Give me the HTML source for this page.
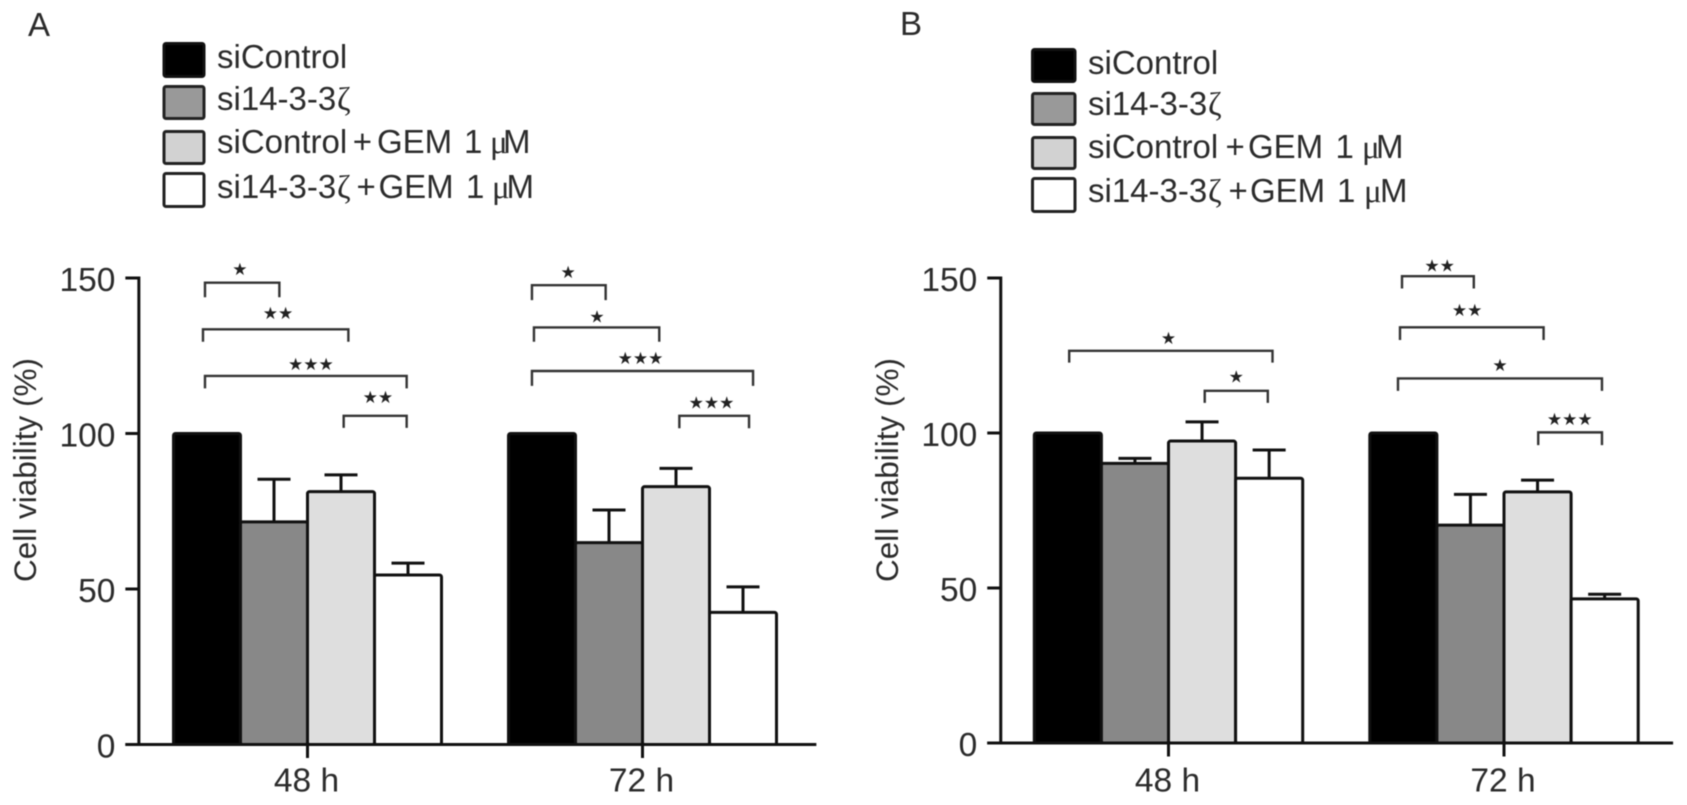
<!DOCTYPE html>
<html lang="en">
<head>
<meta charset="utf-8">
<title>Cell viability bar charts</title>
<style>
html,body{margin:0;padding:0;background:#fff;}
body{width:1687px;height:805px;overflow:hidden;}
svg{display:block;filter:blur(.45px);}
text{font-family:"Liberation Sans",sans-serif;fill:#2b2b2b;}
.lg{font-size:33px;}
.sf{font-family:"Liberation Serif",serif;}
</style>
</head>
<body>
<svg id="figure" xmlns="http://www.w3.org/2000/svg" width="1687" height="805" viewBox="0 0 1687 805">
  <rect x="0" y="0" width="1687" height="805" fill="#fff"/>

  <text x="28" y="36" font-size="33">A</text>
  <g>
    <rect x="164" y="43.5" width="40" height="33" rx="2" fill="#000" stroke="#111" stroke-width="3"/>
    <rect x="164" y="86.5" width="40" height="32" rx="2" fill="#999" stroke="#222" stroke-width="3"/>
    <rect x="164" y="131.5" width="40" height="32" rx="2" fill="#d2d2d2" stroke="#222" stroke-width="3"/>
    <rect x="164" y="173.5" width="40" height="33" rx="2" fill="#fff" stroke="#222" stroke-width="3"/>
    <text class="lg" x="217" y="68">siControl</text>
    <text class="lg" x="217" y="110">si14-3-3<tspan class="sf" x="337">ζ</tspan></text>
    <text class="lg" x="217" y="153">siControl<tspan x="352.7">+</tspan><tspan x="377">GEM</tspan><tspan x="464">1</tspan><tspan class="sf" x="490">μ</tspan><tspan x="503">M</tspan></text>
    <text class="lg" x="217" y="198">si14-3-3<tspan class="sf" x="337">ζ</tspan><tspan x="356.5">+</tspan><tspan x="378.5">GEM</tspan><tspan x="466">1</tspan><tspan class="sf" x="492">μ</tspan><tspan x="506.5">M</tspan></text>
  </g>

  <text x="900" y="35" font-size="33">B</text>
  <g>
    <rect x="1032.5" y="49.5" width="42.5" height="32" rx="2" fill="#000" stroke="#111" stroke-width="3"/>
    <rect x="1032.5" y="93.5" width="42.5" height="31" rx="2" fill="#999" stroke="#222" stroke-width="3"/>
    <rect x="1032.5" y="137.5" width="42.5" height="31" rx="2" fill="#d2d2d2" stroke="#222" stroke-width="3"/>
    <rect x="1032.5" y="178.5" width="42.5" height="33" rx="2" fill="#fff" stroke="#222" stroke-width="3"/>
    <text class="lg" x="1088" y="74">siControl</text>
    <text class="lg" x="1088" y="115">si14-3-3<tspan class="sf" x="1208">ζ</tspan></text>
    <text class="lg" x="1088" y="158">siControl<tspan x="1225.5">+</tspan><tspan x="1248">GEM</tspan><tspan x="1335.5">1</tspan><tspan class="sf" x="1362">μ</tspan><tspan x="1376">M</tspan></text>
    <text class="lg" x="1088" y="202">si14-3-3<tspan class="sf" x="1208">ζ</tspan><tspan x="1228.5">+</tspan><tspan x="1250">GEM</tspan><tspan x="1337">1</tspan><tspan class="sf" x="1364">μ</tspan><tspan x="1380">M</tspan></text>
  </g>
</svg>
<script>
// ---- shared data ----
const categories = ['48 h', '72 h'];
const seriesNames = ['sicontrol', 'si14-3-3', 'sicontrol-gem', 'si14-3-3-gem'];
const seriesFills = ['#000', '#888', '#dedede', '#fff'];
const yTicks = [0, 50, 100, 150];
const yTitle = 'Cell viability (%)';

// ---- panel A values (% viability, categories order) ----
const siControlA = [100, 100];
const si1433A = [71.6, 64.9];
const siControlGemA = [81.3, 82.9];
const si1433GemA = [54.5, 42.5];
const si1433ErrA = [13.7, 10.5];
const siControlGemErrA = [5.4, 5.9];
const si1433GemErrA = [3.8, 8.2];

// ---- panel B values ----
const siControlB = [100, 100];
const si1433B = [90.2, 70.3];
const siControlGemB = [97.4, 81.0];
const si1433GemB = [85.4, 46.5];
const si1433ErrB = [1.6, 9.9];
const siControlGemErrB = [6.2, 3.8];
const si1433GemErrB = [9.1, 1.5];

// ---- significance brackets: x in bar-width units from the 48 h centre, y in % ----
const bracketFromA = [-1.53, -1.56, -1.53, 0.54, 3.35, 3.38, 3.35, 5.55];
const bracketToA = [-0.42, 0.61, 1.48, 1.48, 4.45, 5.25, 6.65, 6.59];
const bracketLevelA = [148.5, 133.5, 118.5, 105.7, 147.7, 134.1, 120.1, 105.7];
const bracketDropA = [4.7, 4, 4, 3.9, 4.8, 4.6, 4.8, 4];
const bracketMarkA = ['★', '★★', '★★★', '★★', '★', '★', '★★★', '★★★'];
const bracketMarkXA = [-1.01, -0.44, 0.05, 1.05, 3.89, 4.32, 4.97, 6.03];
const bracketMarkYA = [152.9, 138.7, 122.3, 111.7, 152, 137.6, 124.2, 109.9];

const bracketFromB = [-1.48, 0.54, 3.48, 3.45, 3.42, 5.51];
const bracketToB = [1.55, 1.48, 4.55, 5.59, 6.46, 6.46];
const bracketLevelB = [126.5, 113.6, 150.6, 134.1, 117.6, 100.2];
const bracketDropB = [3.8, 3.9, 4, 4.1, 4, 4.1];
const bracketMarkB = ['★', '★', '★★', '★★', '★', '★★★'];
const bracketMarkXB = [0, 1.01, 4.04, 4.45, 4.94, 5.98];
const bracketMarkYB = [130.7, 118.2, 154, 139.7, 121.9, 104.5];

const NS = 'http://www.w3.org/2000/svg';
const fig = document.getElementById('figure');

function make(tag, parent, attrs) {
  const el = document.createElementNS(NS, tag);
  for (const k in attrs) el.setAttribute(k, attrs[k]);
  parent.appendChild(el);
  return el;
}

function drawPanel(p) {
  const xScale = u => p.x0 + p.step * u;
  const yScale = v => p.base - p.unit * v;
  const groupUnit = 5;

  const g = make('g', fig, {});
  
  

  // y-axis title
  const yt = make('text', g, {x: 0, y: 0, 'font-size': 31.5, transform: 'translate(' + p.titleX + ',582) rotate(-90)'});
  yt.textContent = yTitle;
  
  

  // bars + error bars
  p.series.forEach((vals, s) => {
    vals.forEach((v, c) => {
      const center = c * groupUnit + s - 1.5;
      const left = xScale(center - 0.5);
      const right = xScale(center + 0.5);
      const bar = make('rect', g, {
        x: left, y: yScale(v), width: right - left, height: yScale(0) - yScale(v),
        rx: 2, fill: seriesFills[s], stroke: '#111', 'stroke-width': 3
      });
      
      
      const errVals = p.errors[s];
      if (errVals) {
        const top = yScale(v + errVals[c]);
        const cx = xScale(center);
        const eb = make('path', g, {
          d: 'M' + cx + ' ' + yScale(v) + 'V' + top + 'M' + (cx - 16.5) + ' ' + top + 'H' + (cx + 16.5),
          fill: 'none', stroke: '#111', 'stroke-width': 3
        });
        
        
      }
    });
  });

  // y axis
  const yAxis = make('line', g, {x1: xScale(p.axisLeftU), x2: xScale(p.axisLeftU), y1: yScale(150) - 1.5, y2: yScale(0) + 1.5, stroke: '#111', 'stroke-width': 3});
  
  
  yTicks.forEach(t => {
    const tick = make('line', g, {x1: xScale(p.axisLeftU) - 13.5, x2: xScale(p.axisLeftU), y1: yScale(t), y2: yScale(t), stroke: '#111', 'stroke-width': 3});
    
    
    const lab = make('text', g, {x: xScale(p.axisLeftU) - 23.5, y: yScale(t) + 13, 'font-size': 33.5, 'text-anchor': 'end'});
    lab.textContent = String(t);
    
    
  });

  // x axis
  const xAxis = make('line', g, {x1: xScale(p.axisLeftU) - 13.5, x2: xScale(p.axisRightU), y1: yScale(0), y2: yScale(0), stroke: '#111', 'stroke-width': 3});
  
  
  categories.forEach((c, i) => {
    const tick = make('line', g, {x1: xScale(i * groupUnit), x2: xScale(i * groupUnit), y1: yScale(0), y2: yScale(0) + 13.5, stroke: '#111', 'stroke-width': 3});
    
    
    const lab = make('text', g, {x: xScale(i * groupUnit) - 1, y: 791.5, 'font-size': 33.5, 'text-anchor': 'middle'});
    lab.textContent = c;
    
    
  });

  // significance brackets
  p.from.forEach((f, i) => {
    const y = yScale(p.level[i]);
    const yLeg = yScale(p.level[i] - p.drop[i]);
    const br = make('path', g, {
      d: 'M' + xScale(f) + ' ' + yLeg + 'V' + y + 'H' + xScale(p.to[i]) + 'V' + yLeg,
      fill: 'none', stroke: '#333', 'stroke-width': 2.4
    });
    
    
    const m = make('text', g, {
      x: xScale(p.markX[i]), y: yScale(p.markY[i]) + 6, 'font-size': 17,
      'text-anchor': 'middle',
      style: 'font-family:"DejaVu Sans",sans-serif;fill:#222'
    });
    m.textContent = p.mark[i];
    
    
  });
}

drawPanel({
  id: 'a', x0: 307.5, step: 67, base: 744.5, unit: 3.11, titleX: 36,
  axisLeftU: -2.517, axisRightU: 7.595,
  series: [siControlA, si1433A, siControlGemA, si1433GemA],
  errors: [null, si1433ErrA, siControlGemErrA, si1433GemErrA],
  from: bracketFromA, to: bracketToA, level: bracketLevelA, drop: bracketDropA,
  mark: bracketMarkA, markX: bracketMarkXA, markY: bracketMarkYA
});

drawPanel({
  id: 'b', x0: 1168.5, step: 67.1, base: 743, unit: 3.1, titleX: 898,
  axisLeftU: -2.5, axisRightU: 7.52,
  series: [siControlB, si1433B, siControlGemB, si1433GemB],
  errors: [null, si1433ErrB, siControlGemErrB, si1433GemErrB],
  from: bracketFromB, to: bracketToB, level: bracketLevelB, drop: bracketDropB,
  mark: bracketMarkB, markX: bracketMarkXB, markY: bracketMarkYB
});
</script>
</body>
</html>
